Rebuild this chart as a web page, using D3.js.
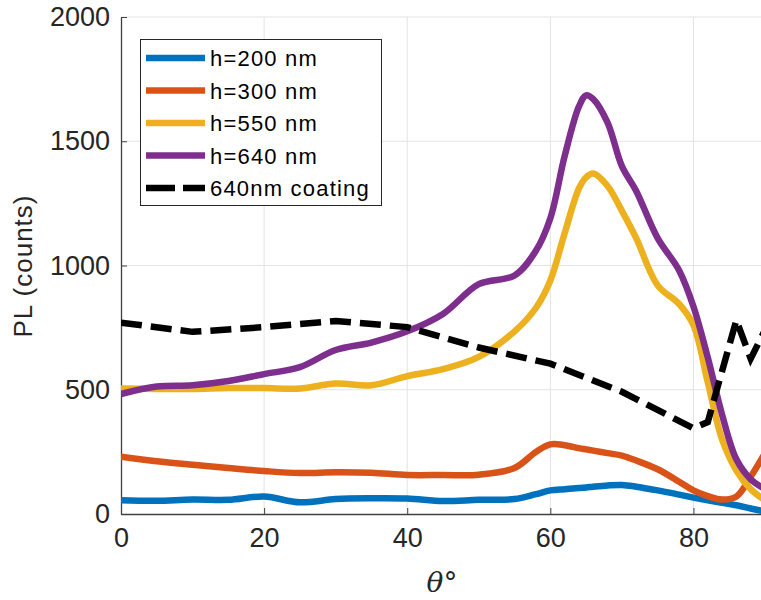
<!DOCTYPE html>
<html>
<head>
<meta charset="utf-8">
<script src="https://cdn.jsdelivr.net/npm/d3@7"></script>
<style>
  html, body { margin: 0; padding: 0; background: #fff; overflow: hidden; }
</style>
</head>
<body>
<div id="idMyCanvas"></div>
<script>
// Data
// -------------------
let theta = [0, 5, 10, 15, 20, 25, 30, 35, 40, 45, 50, 55, 58, 60, 62, 64, 65, 66,
             68, 70, 72, 75, 78, 80, 82, 84, 86, 88, 90];

let pl_200 = [55, 53, 58, 57, 70, 47, 60, 63, 62, 52, 57, 60, 80, 95, 100, 105, 107, 110,
              115, 117, 110, 95, 78, 66, 55, 45, 35, 22, 10];
let pl_300 = [230, 212, 198, 185, 173, 165, 168, 166, 157, 157, 158, 185, 250, 280, 277, 265, 260, 255,
              245, 235, 215, 180, 130, 95, 72, 58, 70, 150, 245];
let pl_550 = [505, 503, 503, 507, 507, 505, 525, 518, 555, 583, 632, 735, 830, 940, 1130, 1310, 1355, 1370,
              1320, 1220, 1110, 920, 845, 760, 530, 300, 175, 100, 55];
let pl_640 = [483, 513, 518, 535, 563, 591, 660, 690, 735, 805, 925, 960, 1060, 1190, 1440, 1640, 1685, 1670,
              1575, 1400, 1300, 1110, 980, 835, 630, 400, 220, 140, 100];

let theta_coat = [0, 10, 20, 30, 40, 50, 60, 70, 80, 82, 86, 88, 90];
let pl_coat = [770, 733, 752, 777, 752, 670, 605, 492, 345, 370, 780, 625, 740];

let series_names = ["h=200 nm", "h=300 nm", "h=550 nm", "h=640 nm", "640nm coating"];
let series_colors = ["#0072BD", "#D95319", "#EDB120", "#7E2F8E", "#000000"];

let x_ticks = [0, 20, 40, 60, 80];
let y_ticks = [0, 500, 1000, 1500, 2000];
// -------------------

let W = 761, H = 600;
let plot_x0 = 121, plot_x1 = 765;
let plot_y0 = 17, plot_y1 = 514;

let svg_obj = d3.select("#idMyCanvas")
                .append("svg")
                  .attr("width", W)
                  .attr("height", H)
                  .attr("xmlns", "http://www.w3.org/2000/svg");

let x = d3.scaleLinear().domain([0, 90]).range([plot_x0, plot_x1]);
let y = d3.scaleLinear().domain([0, 2000]).range([plot_y1, plot_y0]);

let tick_font = "'Liberation Sans', Arial, Helvetica, sans-serif";
let axis_col = "#404040";

// Grid
// -------------------
svg_obj.append("g")
  .selectAll("line.gx")
  .data(x_ticks.filter(d => d > 0))
  .join("line")
    .attr("x1", d => x(d)).attr("x2", d => x(d))
    .attr("y1", plot_y0).attr("y2", plot_y1)
    .attr("stroke", "#e3e3e3").attr("stroke-width", 1);

svg_obj.append("g")
  .selectAll("line.gy")
  .data(y_ticks.filter(d => d > 0))
  .join("line")
    .attr("x1", plot_x0).attr("x2", plot_x1)
    .attr("y1", d => y(d)).attr("y2", d => y(d))
    .attr("stroke", "#e3e3e3").attr("stroke-width", 1);
// -------------------

// Axes
// -------------------
let x_axis = d3.axisBottom(x).tickValues(x_ticks).tickFormat(d3.format("d"))
  .tickSizeInner(-6).tickSizeOuter(0).tickPadding(14);
let y_axis = d3.axisLeft(y).tickValues(y_ticks).tickFormat(d3.format("d"))
  .tickSizeInner(-6).tickSizeOuter(0).tickPadding(11);

let gx = svg_obj.append("g")
  .attr("transform", "translate(0," + plot_y1 + ")")
  .call(x_axis);
let gy = svg_obj.append("g")
  .attr("transform", "translate(" + plot_x0 + ",0)")
  .call(y_axis);

[gx, gy].forEach(g => {
  g.select(".domain").attr("stroke", axis_col).attr("stroke-width", 1.3);
  g.selectAll(".tick line").attr("stroke", axis_col).attr("stroke-width", 1);
  g.selectAll(".tick text")
    .attr("fill", "#262626")
    .style("font-family", tick_font)
    .style("font-size", "27px");
});
gx.selectAll(".tick text").attr("dy", "0.71em");
// -------------------

// Lines
// -------------------
svg_obj.append("clipPath").attr("id", "plotclip")
  .append("rect")
    .attr("x", plot_x0).attr("y", plot_y0 - 5)
    .attr("width", plot_x1 - plot_x0).attr("height", plot_y1 - plot_y0 + 5);

let smooth_line = d3.line()
  .x(d => x(d[0]))
  .y(d => y(d[1]))
  .curve(d3.curveCatmullRom.alpha(0.5));

let straight_line = d3.line()
  .x(d => x(d[0]))
  .y(d => y(d[1]));

let curves = [pl_200, pl_300, pl_550, pl_640];
let lines_g = svg_obj.append("g").attr("clip-path", "url(#plotclip)");

curves.forEach((vals, i) => {
  lines_g.append("path")
    .attr("d", smooth_line(d3.zip(theta, vals)))
    .attr("fill", "none")
    .attr("stroke", series_colors[i])
    .attr("stroke-width", 6.5)
    .attr("stroke-linejoin", "round")
    .attr("stroke-linecap", "butt");
});

lines_g.append("path")
  .attr("d", straight_line(d3.zip(theta_coat, pl_coat)))
  .attr("fill", "none")
  .attr("stroke", series_colors[4])
  .attr("stroke-width", 6.5)
  .attr("stroke-dasharray", "21,9");
// -------------------

// Labels
// -------------------
svg_obj.append("text")
  .attr("transform", "translate(32,266) rotate(-90)")
  .attr("text-anchor", "middle")
  .attr("fill", "#262626")
  .style("font-family", tick_font)
  .style("font-size", "26px")
  .style("letter-spacing", "1px")
  .text("PL (counts)");

svg_obj.append("text")
  .attr("x", 442)
  .attr("y", 592)
  .attr("text-anchor", "middle")
  .attr("fill", "#262626")
  .style("font-family", "'DejaVu Serif', 'Liberation Serif', serif")
  .style("font-style", "italic")
  .style("font-size", "28px")
  .text("θ°");
// -------------------

// Legend
// -------------------
let leg_g = svg_obj.append("g");
leg_g.append("rect")
  .attr("x", 140.5).attr("y", 39.5)
  .attr("width", 241).attr("height", 166)
  .attr("fill", "#fff")
  .attr("stroke", "#262626")
  .attr("stroke-width", 1);

let leg_rows = d3.range(series_names.length);
let leg_y = d3.scaleLinear().domain([0, 4]).range([58, 188]);

leg_g.selectAll("line.leg")
  .data(leg_rows)
  .join("line")
    .attr("x1", 146).attr("x2", 205)
    .attr("y1", d => leg_y(d)).attr("y2", d => leg_y(d))
    .attr("stroke", d => series_colors[d])
    .attr("stroke-width", 6.5)
    .attr("stroke-dasharray", d => d === 4 ? "29,8" : null);

leg_g.selectAll("text.leg")
  .data(leg_rows)
  .join("text")
    .attr("x", 210)
    .attr("y", d => leg_y(d) + 8)
    .attr("fill", "#000")
    .style("font-family", tick_font)
    .style("font-size", "22px")
    .style("letter-spacing", "1.2px")
    .text(d => series_names[d]);
// -------------------
</script>
</body>
</html>
